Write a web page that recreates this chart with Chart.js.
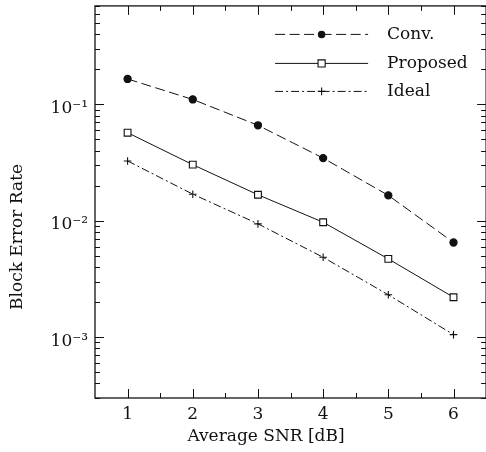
<!DOCTYPE html>
<html><head><meta charset="utf-8">
<script src="https://cdn.jsdelivr.net/npm/chart.js@4.4.1/dist/chart.umd.min.js"></script>
<style>html,body{margin:0;padding:0;overflow:hidden;background:#fff;width:486px;height:452px}canvas{display:block}</style>
</head><body><canvas id="c" width="492" height="452"></canvas>
<script>
// ---- data ----
const snr = [1, 2, 3, 4, 5, 6];
const conv = [0.165, 0.110, 0.066, 0.0345, 0.0165, 0.0065];
const proposed = [0.057, 0.0303, 0.0167, 0.0097, 0.0047, 0.0022];
const ideal = [0.0326, 0.0169, 0.0094, 0.00485, 0.00231, 0.00105];
const seriesNames = ['Conv.', 'Proposed', 'Ideal'];
const xTicks = [1, 2, 3, 4, 5, 6];
const yTicks = [1e-3, 1e-2, 1e-1];
const yTickLabels = ['10\u207B\u00B3', '10\u207B\u00B2', '10\u207B\u00B9'];
const xTitle = 'Average SNR [dB]';
const yTitle = 'Block Error Rate';

const FONT = '"DejaVu Serif", "Liberation Serif", serif';
const INK = '#111';
const toPts = arr => snr.map((s, i) => ({x: s, y: arr[i]}));

const styles = [
  {dash: [10, 4.5], point: 'circle', r: 3.6, fill: INK, lr: 3.2},
  {dash: [], point: 'rect', r: 4.8, fill: '#fff', lr: 3.6},
  {dash: [8, 3, 2, 3], point: 'cross', r: 3.8, fill: INK, lr: 3.8}
];
const seriesData = [conv, proposed, ideal];

const datasets = seriesData.map((d, i) => ({
  label: seriesNames[i],
  data: toPts(d),
  borderColor: INK,
  borderWidth: 1,
  borderDash: styles[i].dash,
  pointStyle: styles[i].point,
  pointRadius: styles[i].r,
  pointBackgroundColor: styles[i].fill,
  pointBorderColor: INK,
  pointBorderWidth: 1.1,
  fill: false,
  tension: 0
}));

function drawMarker(ctx, style, x, y, r, fill) {
  ctx.save();
  ctx.setLineDash([]);
  ctx.lineWidth = 1.1;
  ctx.strokeStyle = INK;
  ctx.fillStyle = fill;
  ctx.beginPath();
  if (style === 'circle') {
    ctx.arc(x, y, r, 0, Math.PI * 2);
    ctx.fill(); ctx.stroke();
  } else if (style === 'rect') {
    const s = r / Math.SQRT2 * 1.4;
    ctx.rect(x - s, y - s, 2 * s, 2 * s);
    ctx.fill(); ctx.stroke();
  } else {
    ctx.moveTo(x - r, y); ctx.lineTo(x + r, y);
    ctx.moveTo(x, y - r); ctx.lineTo(x, y + r);
    ctx.stroke();
  }
  ctx.restore();
}

const framePlugin = {
  id: 'frame',
  afterDatasetsDraw(chart) {
    const {ctx, chartArea: a, scales: {x, y}} = chart;
    ctx.save();
    ctx.strokeStyle = INK;
    ctx.lineWidth = 1;
    ctx.setLineDash([]);
    ctx.beginPath();
    const vt = (v, len) => {
      const p = Math.round(x.getPixelForValue(v)) + 0.5;
      ctx.moveTo(p, a.bottom); ctx.lineTo(p, a.bottom - len);
      ctx.moveTo(p, a.top); ctx.lineTo(p, a.top + len);
    };
    xTicks.forEach(v => vt(v, 9));
    for (let i = 0; i < xTicks.length - 1; i++) vt((xTicks[i] + xTicks[i + 1]) / 2, 5);
    const ht = (v, len) => {
      const p = Math.round(y.getPixelForValue(v)) + 0.5;
      ctx.moveTo(a.left, p); ctx.lineTo(a.left + len, p);
      ctx.moveTo(a.right, p); ctx.lineTo(a.right - len, p);
    };
    for (let e = -4; e <= 0; e++) {
      for (let k = 1; k <= 9; k++) {
        const v = k * Math.pow(10, e);
        if (v < y.min * 0.999 || v > y.max * 1.001) continue;
        ht(v, k === 1 ? 9 : 5);
      }
    }
    ctx.stroke();
    ctx.lineWidth = 1.3;
    ctx.strokeRect(a.left, a.top, a.right - a.left, a.bottom - a.top);
    ctx.restore();
  },
  afterDraw(chart) {
    const {ctx, chartArea: a} = chart;
    // axis titles
    ctx.save();
    ctx.fillStyle = INK;
    ctx.font = '17px ' + FONT;
    ctx.textAlign = 'center';
    ctx.textBaseline = 'middle';
    ctx.fillText(xTitle, 266, 437);
    ctx.translate(18, 237);
    ctx.rotate(-Math.PI / 2);
    ctx.fillText(yTitle, 0, 0);
    ctx.restore();
    // legend
    ctx.save();
    const x0 = a.right - 211, x1 = a.right - 118, xm = (x0 + x1) / 2;
    const rows = [a.top + 28, a.top + 57, a.top + 85];
    chart.data.datasets.forEach((ds, i) => {
      const yy = rows[i] + 0.5;
      ctx.strokeStyle = INK;
      ctx.lineWidth = 1;
      ctx.setLineDash(ds.borderDash || []);
      ctx.beginPath();
      ctx.moveTo(x0, yy); ctx.lineTo(xm, yy);
      ctx.stroke();
      ctx.beginPath();
      ctx.moveTo(xm, yy); ctx.lineTo(x1, yy);
      ctx.stroke();
      drawMarker(ctx, styles[i].point, xm, yy, styles[i].lr, styles[i].fill);
      ctx.setLineDash([]);
      ctx.fillStyle = INK;
      ctx.font = '17px ' + FONT;
      ctx.textAlign = 'left';
      ctx.textBaseline = 'middle';
      ctx.fillText(ds.label, x1 + 19, rows[i] + 1);
    });
    ctx.restore();
  }
};

new Chart(document.getElementById('c'), {
  type: 'line',
  data: {datasets},
  options: {
    responsive: false,
    animation: false,
    devicePixelRatio: 1,
    layout: {padding: {top: 5, right: 4, left: 0, bottom: 0}},
    plugins: {legend: {display: false}, tooltip: {enabled: false}},
    scales: {
      x: {
        type: 'linear',
        min: 0.5, max: 6.5,
        grid: {display: false, drawTicks: false},
        border: {display: false},
        afterBuildTicks: s => { s.ticks = xTicks.map(v => ({value: v})); },
        afterFit: s => { s.height = 54; s.paddingLeft = 0; s.paddingRight = 0; },
        ticks: {color: INK, font: {family: FONT, size: 17}, padding: 6, maxRotation: 0,
                callback: v => String(v)},
        title: {display: false}
      },
      y: {
        type: 'logarithmic',
        min: 3e-4, max: 0.7,
        grid: {display: false, drawTicks: false},
        border: {display: false},
        afterBuildTicks: s => { s.ticks = yTicks.map(v => ({value: v})); },
        afterFit: s => { s.width = 95; s.paddingTop = 0; s.paddingBottom = 0; },
        ticks: {color: INK, font: {family: FONT, size: 17}, padding: 7, labelOffset: 4,
                callback: (v) => { const i = yTicks.findIndex(t => Math.abs(t - v) / t < 1e-6); return i >= 0 ? yTickLabels[i] : ''; }},
        title: {display: false}
      }
    }
  },
  plugins: [framePlugin]
});
</script></body></html>
